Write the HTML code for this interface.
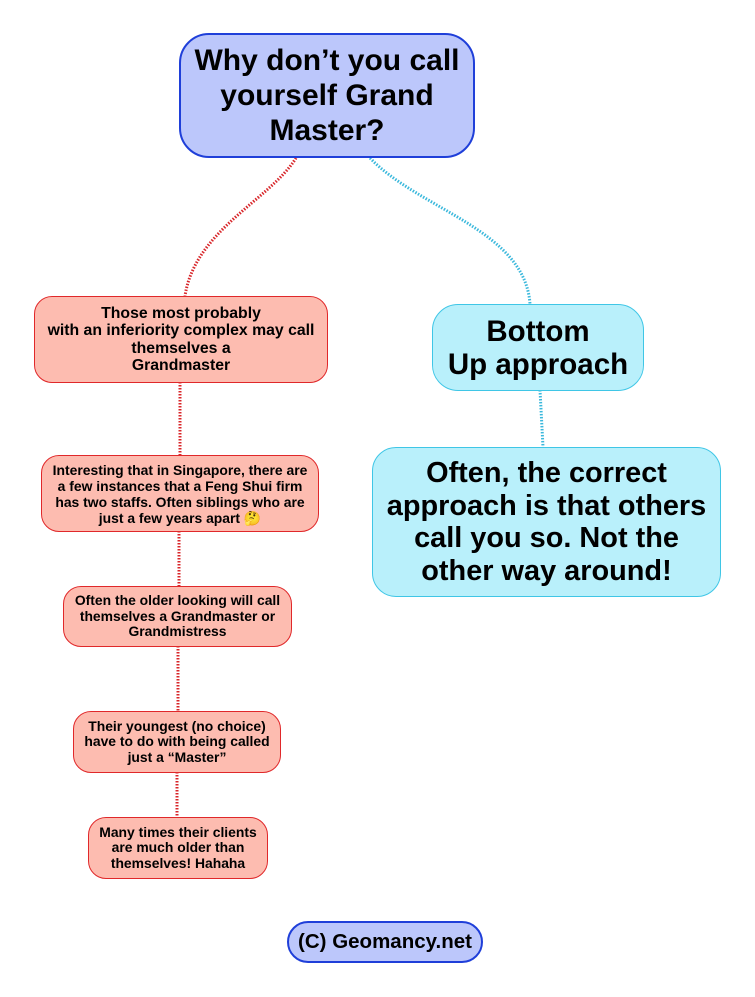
<!DOCTYPE html>
<html><head><meta charset="utf-8"><style>
html,body{margin:0;padding:0;background:#fff;}
body{width:755px;height:997px;position:relative;overflow:hidden;font-family:"Liberation Sans",Arial,sans-serif;font-weight:bold;color:#000;}
.b{position:absolute;box-sizing:border-box;display:flex;align-items:center;justify-content:center;text-align:center;white-space:nowrap;}
.r{background:#fdbcb0;border:1.5px solid #e0282a;border-radius:18px;}
.c{background:#b9f0fb;border:1.5px solid #3fc6e6;}
.p{background:#bcc7fb;border:2.5px solid #1f3fd9;}
svg{position:absolute;left:0;top:0;}
</style></head><body>
<svg width="755" height="997">
<path d="M296,158 C270,200 195,230 185,296" fill="none" stroke="#d8262a" stroke-width="3" stroke-dasharray="1.5 1.5"/>
<path d="M370,158 C420,210 525,230 530,304" fill="none" stroke="#3ab8dc" stroke-width="3" stroke-dasharray="1.5 1.5"/>
<path d="M540,390 L543,447" fill="none" stroke="#3ab8dc" stroke-width="3" stroke-dasharray="1.5 1.5"/>
<path d="M180,382 L180,455 M179,531 L179,586 M178,646 L178,711 M177,772 L177,817" fill="none" stroke="#d8262a" stroke-width="3" stroke-dasharray="1.5 1.5"/>
</svg>
<div class="b p" style="left:179px;top:33px;width:296px;height:125px;border-radius:30px;font-size:30px;line-height:35px;">Why don’t you call<br>yourself Grand<br>Master?</div>
<div class="b r" style="left:34px;top:296px;width:294px;height:87px;font-size:15.8px;line-height:17.5px;">Those most probably<br>with an inferiority complex may call<br>themselves a<br>Grandmaster</div>
<div class="b r" style="left:41px;top:455px;width:278px;height:77px;font-size:13.9px;line-height:16px;">Interesting that in Singapore, there are<br>a few instances that a Feng Shui firm<br>has two staffs. Often siblings who are<br>just a few years apart 🤔</div>
<div class="b r" style="left:63px;top:586px;width:229px;height:61px;font-size:13.9px;line-height:15.5px;">Often the older looking will call<br>themselves a Grandmaster or<br>Grandmistress</div>
<div class="b r" style="left:73px;top:711px;width:208px;height:62px;font-size:13.9px;line-height:15.5px;">Their youngest (no choice)<br>have to do with being called<br>just a “Master”</div>
<div class="b r" style="left:88px;top:817px;width:180px;height:62px;font-size:13.9px;line-height:15.5px;">Many times their clients<br>are much older than<br>themselves! Hahaha</div>
<div class="b c" style="left:432px;top:304px;width:212px;height:87px;border-radius:26px;font-size:29.5px;line-height:33px;">Bottom<br>Up approach</div>
<div class="b c" style="left:372px;top:447px;width:349px;height:150px;border-radius:24px;font-size:28.9px;line-height:32.5px;">Often, the correct<br>approach is that others<br>call you so. Not the<br>other way around!</div>
<div class="b p" style="left:287px;top:921px;width:196px;height:42px;border-radius:21px;font-size:20.5px;">(C) Geomancy.net</div>
</body></html>
